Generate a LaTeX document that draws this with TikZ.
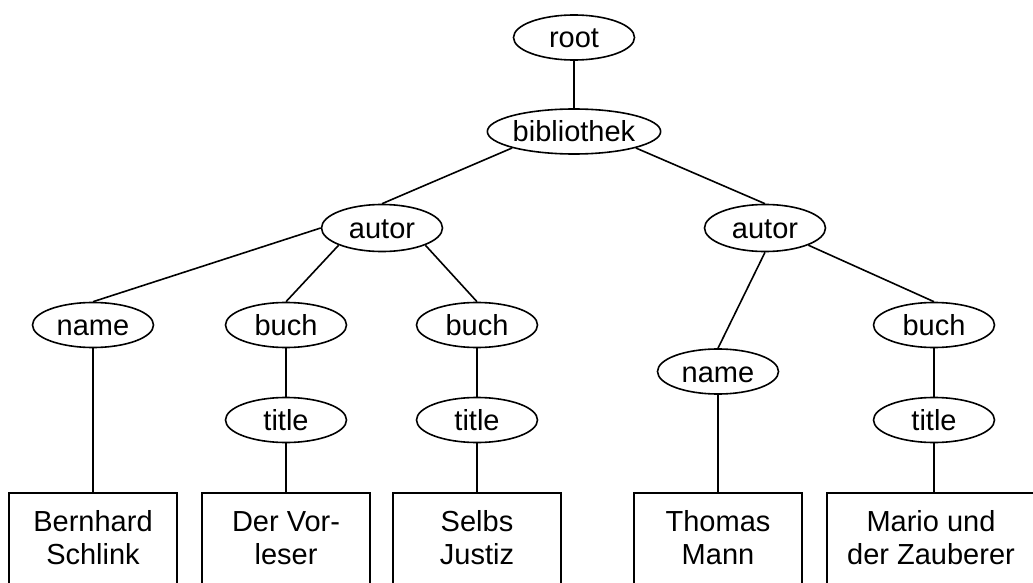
\documentclass[tikz,border=0pt]{standalone}
\usepackage{fontspec}
\setmainfont{Liberation Sans}
\usetikzlibrary{shapes.geometric,calc}
\begin{document}
\begin{tikzpicture}[x=1pt,y=-1pt,
  every node/.style={font=\fontsize{29}{33}\selectfont},
  oval/.style={ellipse,draw,line width=1.6pt,minimum width=121pt,minimum height=45pt,
    inner sep=0pt,text height=21pt,text depth=0pt},
  leaf/.style={rectangle,draw,line width=1.6pt,minimum width=168pt,minimum height=130pt,anchor=north,inner sep=0pt},
  leaftext/.style={align=center,inner sep=0pt},
  link/.style={line width=1.6pt}]
\useasboundingbox (0,0) rectangle (1033,583);
\clip (0,0) rectangle (1033,583);

% tree nodes
\node[oval] (root) at (574,37.5) {root};
\node[oval,minimum width=172pt] (bib) at (574,131.5) {bibliothek};
\node[oval,minimum height=47pt] (autorA) at (382,228) {autor};
\node[oval,minimum height=47pt] (autorB) at (765,228) {autor};
\node[oval] (nameA) at (93,325) {name};
\node[oval] (buchA) at (286,325) {buch};
\node[oval] (buchB) at (477,325) {buch};
\node[oval] (nameB) at (718,371.5) {name};
\node[oval] (buchC) at (934,325) {buch};
\node[oval] (titleA) at (286,420) {title};
\node[oval] (titleB) at (477,420) {title};
\node[oval] (titleC) at (934,420) {title};

% leaf boxes
\node[leaf] (boxA) at (93,492) {};
\node[leaf] (boxB) at (286,492) {};
\node[leaf] (boxC) at (477,492) {};
\node[leaf] (boxD) at (718,492) {};
\node[leaf,minimum width=214pt] (boxE) at (934,492) {};

\node[leaftext] (txtA) at (93,541.5) {\strut Bernhard\\\strut Schlink};
\node[leaftext] (txtB) at (286,541.5) {\strut Der Vor-\\\strut leser};
\node[leaftext] (txtC) at (477,541.5) {\strut Selbs\\\strut Justiz};
\node[leaftext] (txtD) at (718,541.5) {\strut Thomas\\\strut Mann};
\node[leaftext] (txtE) at (931,541.5) {\strut Mario und\\\strut der Zauberer};

% connectors
\draw[link] (root.south) -- (bib.north);
\draw[link] (bib.south west) -- (autorA.north);
\draw[link] (bib.south east) -- (autorB.north);
\draw[link] (autorA.west) -- (nameA.north);
\draw[link] (autorA.south west) -- (buchA.north);
\draw[link] (autorA.south east) -- (buchB.north);
\draw[link] (autorB.south) -- (nameB.north);
\draw[link] (autorB.south east) -- (buchC.north);
\draw[link] (nameA.south) -- (boxA.north);
\draw[link] (buchA.south) -- (titleA.north);
\draw[link] (buchB.south) -- (titleB.north);
\draw[link] (buchC.south) -- (titleC.north);
\draw[link] (titleA.south) -- (boxB.north);
\draw[link] (titleB.south) -- (boxC.north);
\draw[link] (titleC.south) -- (boxE.north);
\draw[link] (nameB.south) -- (boxD.north);
\end{tikzpicture}
\end{document}
